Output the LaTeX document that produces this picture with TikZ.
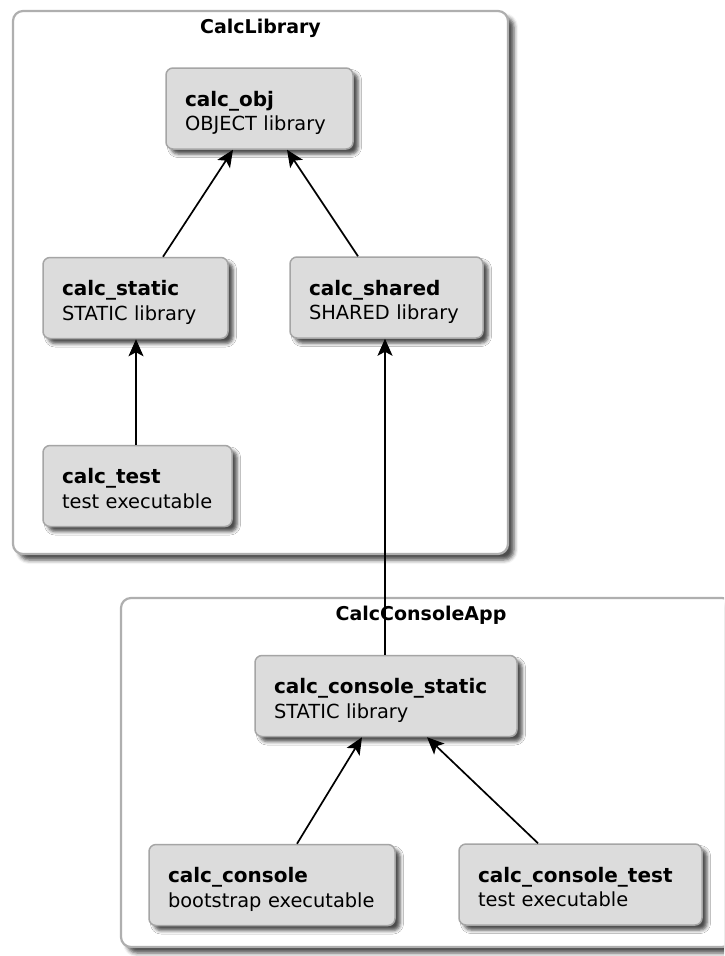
\documentclass[tikz,border=0pt]{standalone}
\usepackage{fontspec}
\setmainfont{DejaVu Sans}
\usetikzlibrary{arrows.meta,shadows.blur,calc}

\definecolor{boxfill}{RGB}{220,220,220}
\definecolor{boxline}{RGB}{165,165,165}
\definecolor{clusterline}{RGB}{175,175,175}

\newcommand\targethead[1]{{\fontsize{20}{24.5}\selectfont\bfseries #1}}

\tikzset{
  cluster/.style={rectangle, draw=clusterline, line width=2.2pt, fill=white,
    rounded corners=10pt, inner sep=0pt,
    blur shadow={shadow xshift=6pt, shadow yshift=-6pt,
      shadow blur radius=4pt, shadow opacity=70}},
  clustertitle/.style={anchor=base, inner sep=0pt,
    font=\fontsize{19}{24}\selectfont\bfseries},
  target/.style={rectangle, draw=boxline, line width=1.5pt, fill=boxfill,
    rounded corners=7pt, inner xsep=19pt, inner ysep=0pt, align=left,
    text height=14pt, text depth=19pt, minimum height=81pt,
    font=\fontsize{19.4}{24.5}\selectfont,
    blur shadow={shadow xshift=5pt, shadow yshift=-5pt,
      shadow blur radius=3.5pt, shadow opacity=70}},
  dep/.style={-{Stealth[length=17pt,width=15pt,inset=4pt]},
    line width=1.7pt, draw=black}
}

\begin{document}
\begin{tikzpicture}[x=1pt,y=-1pt]
\useasboundingbox (0,0) rectangle (724,956);
\clip (0,0) rectangle (724,956);

% clusters
\node[cluster, minimum width=495pt, minimum height=543pt] (calclibrary) at (260.5,282.5) {};
\node[cluster, minimum width=611pt, minimum height=349pt] (calcconsoleapp) at (426.5,772.5) {};
\node[clustertitle] (calclibrarytitle) at (260.5,33) {CalcLibrary};
\node[clustertitle] (calcconsoleapptitle) at (421,620.5) {CalcConsoleApp};

% targets
\node[target, minimum width=187pt, text width=149pt] (calcobj) at (259.5,108.5)
  {\targethead{calc\_obj}\\OBJECT library};
\node[target, minimum width=185pt, text width=147pt] (calcstatic) at (135.5,298)
  {\targethead{calc\_static}\\STATIC library};
\node[target, minimum width=193pt, text width=155pt] (calcshared) at (386.5,297.5)
  {\targethead{calc\_shared}\\SHARED library};
\node[target, minimum width=189pt, text width=151pt] (calctest) at (137.5,486)
  {\targethead{calc\_test}\\test executable};
\node[target, minimum width=262pt, text width=224pt] (calcconsolestatic) at (386,696)
  {\targethead{calc\_console\_static}\\STATIC library};
\node[target, minimum width=246pt, text width=208pt] (calcconsole) at (272,885)
  {\targethead{calc\_console}\\bootstrap executable};
\node[target, minimum width=243pt, text width=205pt] (calcconsoletest) at (580.5,884.5)
  {\targethead{calc\_console\_test}\\test executable};

% dependencies
\draw[dep] ($(calcstatic.north)+(27.5,0)$) -- ($(calcobj.south)+(-26.5,0)$);
\draw[dep] ($(calcshared.north)+(-28.5,0)$) -- ($(calcobj.south)+(27.5,0)$);
\draw[dep] ($(calctest.north)+(-1.5,0)$) -- ($(calcstatic.south)+(0.5,0)$);
\draw[dep] ($(calcconsolestatic.north)+(-1,0)$) -- ($(calcshared.south)+(-1.5,0)$);
\draw[dep] ($(calcconsole.north)+(25,0)$) -- ($(calcconsolestatic.south)+(-24,0)$);
\draw[dep] ($(calcconsoletest.north)+(-42.5,0)$) -- ($(calcconsolestatic.south)+(41,0)$);
\end{tikzpicture}
\end{document}
